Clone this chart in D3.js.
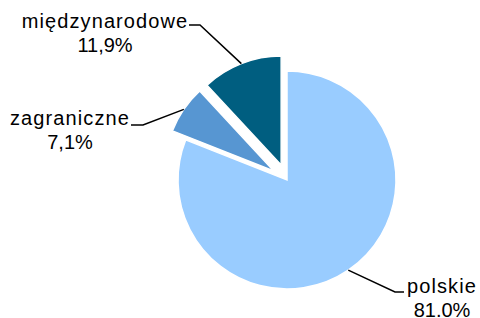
<!DOCTYPE html>
<html>
<head>
<meta charset="utf-8">
<script src="https://cdn.jsdelivr.net/npm/d3@7"></script>
<style>
  body { margin: 0; background: #fff; }
  text { font-family: "Liberation Sans", Arial, sans-serif; font-size: 20px; fill: #000; }
</style>
</head>
<body>
<svg width="480" height="318"></svg>
<script>
// Chart data
const categories = ["polskie", "zagraniczne", "międzynarodowe"];
const values = [81.0, 7.1, 11.9];
const valueLabels = ["81.0%", "7,1%", "11,9%"];
const colors = ["#99CCFF", "#5796D2", "#005E80"];
const exploded = [false, true, true];

const svg = d3.select("svg");
const cx = 287, cy = 180, radius = 109, explode = 16;

// label layout: text centre, first baseline, elbow of the leader line
const labelLayout = [
  { x: 442, y: 293, elbowX: 395, endX: 404, lineY: 292 },
  { x: 70, y: 125, elbowX: 143, endX: 131, lineY: 125 },
  { x: 105, y: 28, elbowX: 200, endX: 189, lineY: 25 }
];

const pie = d3.pie().sort(null).value(d => d)(values);
const arc = d3.arc().innerRadius(0).outerRadius(radius);

const g = svg.append("g").attr("transform", `translate(${cx},${cy})`);

// offset of each slice along its middle angle
function offset(d, i) {
  const mid = (d.startAngle + d.endAngle) / 2;
  const k = exploded[i] ? explode : 0;
  return [Math.sin(mid) * k, -Math.cos(mid) * k];
}

g.selectAll("path.slice")
  .data(pie)
  .enter()
  .append("path")
  .attr("class", "slice")
  .attr("d", arc)
  .attr("transform", (d, i) => `translate(${offset(d, i)})`)
  .attr("fill", (d, i) => colors[i])
  .attr("stroke", "#fff")
  .attr("stroke-width", 1.5);

// leader lines
pie.forEach((d, i) => {
  const mid = (d.startAngle + d.endAngle) / 2;
  const o = offset(d, i);
  const sx = cx + o[0] + Math.sin(mid) * radius;
  const sy = cy + o[1] - Math.cos(mid) * radius;
  const L = labelLayout[i];
  svg.append("polyline")
    .attr("points", `${sx},${sy} ${L.elbowX},${L.lineY} ${L.endX},${L.lineY}`)
    .attr("fill", "none")
    .attr("stroke", "#000")
    .attr("stroke-width", 1.5);
});

// labels
categories.forEach((name, i) => {
  const L = labelLayout[i];
  const t = svg.append("text").attr("text-anchor", "middle");
  t.append("tspan").attr("x", L.x).attr("y", L.y)
    .style("letter-spacing", "1.1px").text(name);
  t.append("tspan").attr("x", L.x).attr("y", L.y + 24).text(valueLabels[i]);
});
</script>
</body>
</html>
